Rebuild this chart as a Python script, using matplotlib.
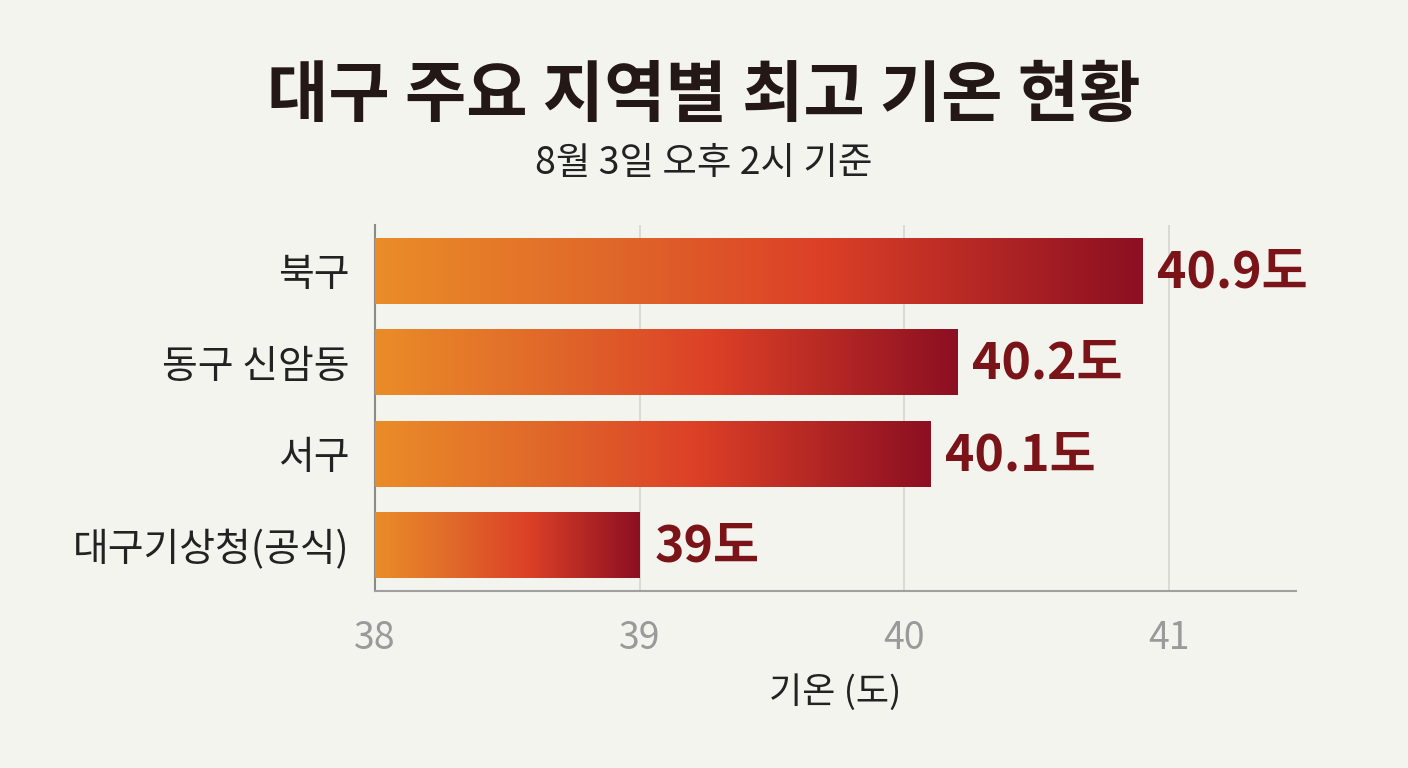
import matplotlib.pyplot as plt
import numpy as np
from matplotlib.colors import LinearSegmentedColormap

plt.rcParams['font.family'] = ['Noto Sans CJK KR', 'DejaVu Sans']

# 데이터
regions = ["북구", "동구 신암동", "서구", "대구기상청(공식)"]
temps = [40.9, 40.2, 40.1, 39.0]
value_labels = ["40.9도", "40.2도", "40.1도", "39도"]
xticks = [38, 39, 40, 41]

bg = "#F4F4EF"
cmap = LinearSegmentedColormap.from_list(
    "heat", [(0.0, "#EA8C28"), (0.3, "#E0682A"), (0.58, "#DC4027"), (1.0, "#8C0F22")])

fig = plt.figure(figsize=(14.08, 7.68), dpi=100, facecolor=bg)
ax = fig.add_axes([0.2663, 0.2305, 0.6542, 0.4765], facecolor=bg)

x0 = 38
ypos = np.arange(len(regions))
height = 0.72
grad = np.linspace(0, 1, 256).reshape(1, -1)

bars = ax.barh(ypos, [t - x0 for t in temps], left=x0, height=height,
               color="none", edgecolor="none", zorder=3)
for b, t in zip(bars, temps):
    y = b.get_y()
    im = ax.imshow(grad, cmap=cmap, aspect="auto", zorder=3,
                   extent=(x0, t, y + height, y), interpolation="bicubic")
    im.set_clip_path(b)

for y, t, lab in zip(ypos, temps, value_labels):
    ax.text(t + 0.055, y + 0.02, lab, va="center", ha="left", fontsize=36,
            fontweight="black", color="#7A1418", zorder=4)

ax.set_xlim(38, 41.48)
ax.set_ylim(3.5, -0.5)
ax.set_xticks(xticks)
ax.set_xticklabels([str(v) for v in xticks])
ax.set_yticks(ypos)
ax.set_yticklabels(regions)
ax.tick_params(axis="x", length=0, pad=20, labelsize=27, labelcolor="#9A9A9A")
ax.tick_params(axis="y", length=0, pad=18, labelsize=28, labelcolor="#222222")
ax.grid(axis="x", color="#D4D4D0", linewidth=1.2, zorder=0)
ax.set_axisbelow(True)
for s in ["top", "right"]:
    ax.spines[s].set_visible(False)
ax.spines["left"].set_color("#8A8A8A")
ax.spines["left"].set_linewidth(1.5)
ax.spines["bottom"].set_color("#A0A0A0")
ax.spines["bottom"].set_linewidth(1.5)
ax.set_xlabel("기온 (도)", fontsize=26, color="#222222", labelpad=12)

fig.text(0.5, 0.874, "대구 주요 지역별 최고 기온 현황", ha="center", va="center",
         fontsize=48, fontweight="black", color="#231815")
fig.text(0.5, 0.787, "8월 3일 오후 2시 기준", ha="center", va="center",
         fontsize=27, color="#222222")

fig.savefig("out.png", dpi=100, facecolor=bg)
